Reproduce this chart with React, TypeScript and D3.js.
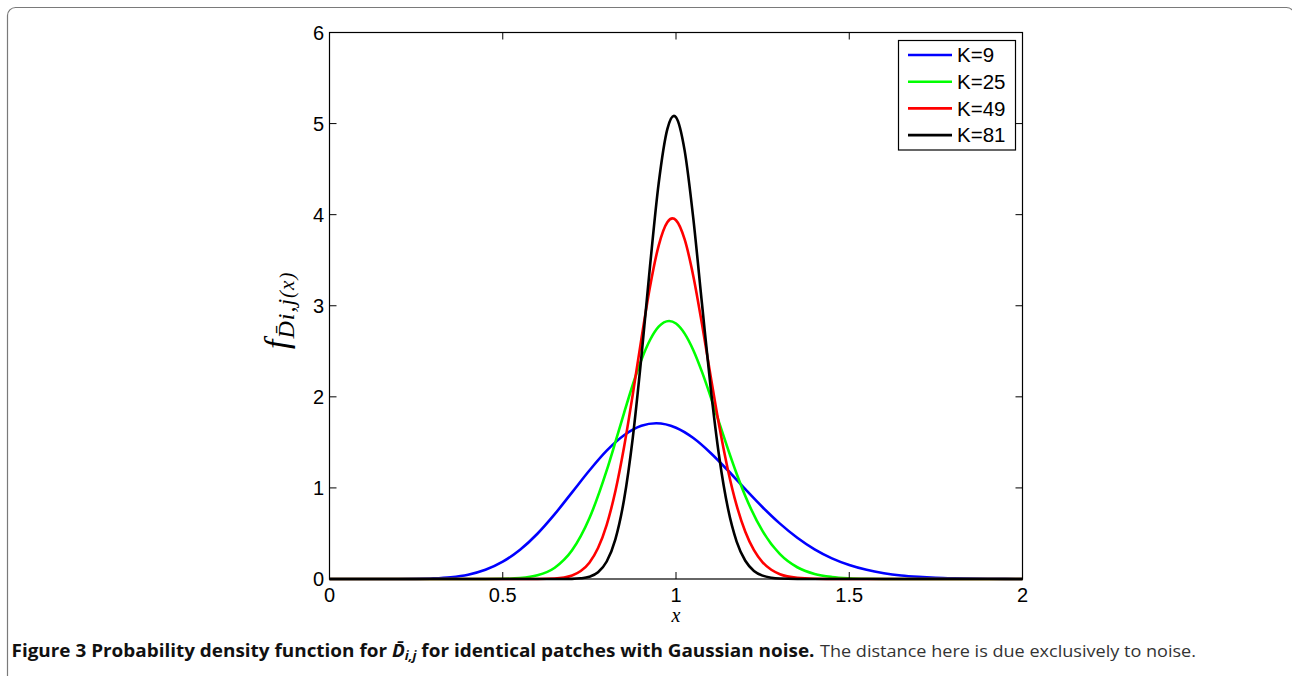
import React from 'react';
import * as d3 from 'd3';

// values (x, density)
const k9Points: [number, number][] = [
  [0, 0], [0.1, 0], [0.15, 0.00004], [0.2, 0.0003], [0.25, 0.0017], [0.3, 0.0065],
  [0.35, 0.0194], [0.4, 0.0477], [0.45, 0.101], [0.5, 0.19], [0.55, 0.321], [0.6, 0.497],
  [0.65, 0.712], [0.7, 0.951], [0.75, 1.191], [0.8, 1.409], [0.85, 1.578], [0.9, 1.682],
  [0.943, 1.71], [1.0, 1.661], [1.05, 1.548], [1.1, 1.384], [1.15, 1.191], [1.2, 0.986],
  [1.25, 0.788], [1.3, 0.608], [1.35, 0.453], [1.4, 0.326], [1.45, 0.227], [1.5, 0.154],
  [1.55, 0.101], [1.6, 0.064], [1.65, 0.039], [1.7, 0.024], [1.75, 0.014], [1.8, 0.008],
  [1.85, 0.004], [1.9, 0.002], [1.95, 0.001], [2, 0.0006]
];
const k25Points: [number, number][] = [
  [0, 0], [0.4, 0], [0.45, 0.0003], [0.5, 0.002], [0.55, 0.01], [0.6, 0.04], [0.65, 0.124],
  [0.7, 0.315], [0.75, 0.667], [0.8, 1.192], [0.825, 1.502], [0.85, 1.821], [0.875, 2.13],
  [0.9, 2.405], [0.925, 2.624], [0.95, 2.77], [0.98, 2.833], [1.0, 2.805], [1.025, 2.694],
  [1.05, 2.512], [1.075, 2.274], [1.1, 2.001], [1.125, 1.712], [1.15, 1.425], [1.175, 1.155],
  [1.2, 0.911], [1.25, 0.525], [1.3, 0.273], [1.35, 0.129], [1.4, 0.055], [1.45, 0.022],
  [1.5, 0.008], [1.55, 0.0025], [1.6, 0.0008], [1.7, 0], [2, 0]
];
const k49Points: [number, number][] = [
  [0, 0], [0.55, 0], [0.6, 0.0006], [0.65, 0.0058], [0.7, 0.039], [0.725, 0.087], [0.75, 0.179],
  [0.775, 0.34], [0.8, 0.595], [0.825, 0.963], [0.85, 1.446], [0.875, 2.021], [0.9, 2.634],
  [0.925, 3.209], [0.95, 3.661], [0.975, 3.917], [0.99, 3.959], [1.0, 3.939], [1.025, 3.728],
  [1.05, 3.325], [1.075, 2.799], [1.1, 2.227], [1.125, 1.676], [1.15, 1.195], [1.175, 0.808],
  [1.2, 0.518], [1.225, 0.316], [1.25, 0.183], [1.275, 0.101], [1.3, 0.053], [1.35, 0.013],
  [1.4, 0.0025], [1.45, 0.0004], [1.5, 0], [2, 0]
];
const k81Points: [number, number][] = [
  [0, 0], [0.65, 0], [0.7, 0.0019], [0.725, 0.0075], [0.75, 0.025], [0.775, 0.075], [0.8, 0.192],
  [0.825, 0.435], [0.85, 0.87], [0.875, 1.542], [0.9, 2.434], [0.925, 3.434], [0.95, 4.344],
  [0.975, 4.94], [0.994, 5.085], [1.0, 5.07], [1.025, 4.703], [1.05, 3.956], [1.075, 3.022],
  [1.1, 2.102], [1.125, 1.334], [1.15, 0.773], [1.175, 0.411], [1.2, 0.2], [1.225, 0.089],
  [1.25, 0.037], [1.275, 0.014], [1.3, 0.005], [1.35, 0.0005], [1.4, 0], [2, 0]
];

const seriesNames = ['K=9', 'K=25', 'K=49', 'K=81'];
const seriesColors = ['#0000ff', '#00ff00', '#ff0000', '#000000'];
const seriesData = [k9Points, k25Points, k49Points, k81Points];

const xTicks = [0, 0.5, 1, 1.5, 2];
const yTicks = [0, 1, 2, 3, 4, 5, 6];

const W = 1292;
const H = 676;
const plot = {left: 329.5, right: 1022.5, top: 32.5, bottom: 579};
const tickLen = 7;
const axisFont = 'Liberation Sans, Arial, sans-serif';
const mathFont = 'Liberation Serif, Times New Roman, serif';
const captionFont = 'Open Sans, sans-serif';

const App = () => {
  const x = d3.scaleLinear().domain([0, 2]).range([plot.left, plot.right]);
  const y = d3.scaleLinear().domain([0, 6]).range([plot.bottom, plot.top]);

  const line = d3.line<[number, number]>()
    .x(d => x(d[0]))
    .y(d => y(d[1]))
    .curve(d3.curveMonotoneX);

  // legend box
  const lg = {x: 898.5, y: 40.5, w: 117, h: 109.5, rowH: 26.7, firstRow: 55};

  return (
    <svg width={W} height={H} style={{position: 'absolute', left: 0, top: 0, display: 'block', background: '#fff'}}>
      {/* figure frame, runs off the right and bottom edges */}
      <rect x={7.5} y={7.5} width={1287} height={720} rx={8} ry={8} fill="none" stroke="#7a7a7a" strokeWidth={1.2}/>

      {/* curves */}
      <g fill="none" strokeWidth={2.6} strokeLinejoin="round">
        {seriesData.map((d, i) => (
          <path key={seriesNames[i]} d={line(d) || ''} stroke={seriesColors[i]}/>
        ))}
      </g>

      {/* axes box */}
      <rect x={plot.left} y={plot.top} width={plot.right - plot.left} height={plot.bottom - plot.top}
            fill="none" stroke="#000" strokeWidth={1.2}/>

      {/* ticks, pointing inward on all four sides */}
      <g stroke="#000" strokeWidth={1}>
        {xTicks.map(t => (
          <g key={'xt' + t}>
            <line x1={x(t)} x2={x(t)} y1={plot.bottom} y2={plot.bottom - tickLen}/>
            <line x1={x(t)} x2={x(t)} y1={plot.top} y2={plot.top + tickLen}/>
          </g>
        ))}
        {yTicks.map(t => (
          <g key={'yt' + t}>
            <line x1={plot.left} x2={plot.left + tickLen} y1={y(t)} y2={y(t)}/>
            <line x1={plot.right} x2={plot.right - tickLen} y1={y(t)} y2={y(t)}/>
          </g>
        ))}
      </g>
      <g fontFamily={axisFont} fontSize={20} fill="#000">
        {xTicks.map(t => (
          <text key={'xl' + t} x={x(t)} y={602} textAnchor="middle">{String(t)}</text>
        ))}
        {yTicks.map(t => (
          <text key={'yl' + t} x={324} y={y(t)} dy="0.36em" textAnchor="end">{String(t)}</text>
        ))}
      </g>

      {/* axis labels */}
      <text x={676} y={622} textAnchor="middle" fontFamily={mathFont} fontStyle="italic" fontSize={20}>x</text>
      <text transform="translate(288,349) rotate(-90)" fontFamily={mathFont} fontStyle="italic" letterSpacing={1}>
        <tspan fontSize={34}>f</tspan>
        <tspan fontSize={24} dy={6}>{'D\u0304i,j'}</tspan>
        <tspan fontSize={21}>(x)</tspan>
      </text>

      {/* legend */}
      <rect x={lg.x} y={lg.y} width={lg.w} height={lg.h} fill="#fff" stroke="#000" strokeWidth={1.2}/>
      {seriesNames.map((name, i) => {
        const cy = lg.firstRow + i * lg.rowH;
        return (
          <g key={'lg' + name}>
            <line x1={908} x2={952} y1={cy} y2={cy} stroke={seriesColors[i]} strokeWidth={2.6}/>
            <text x={957} y={cy} dy="0.36em" fontFamily={axisFont} fontSize={20.5}>{name}</text>
          </g>
        );
      })}

      {/* caption */}
      <text x={11.5} y={657} fontFamily={captionFont} fontSize={17} fontWeight="bold" fill="#111"
            textLength={803} lengthAdjust="spacingAndGlyphs">
        Figure 3 Probability density function for <tspan fontStyle="italic">{'D\u0304'}</tspan>
        <tspan fontStyle="italic" fontSize={12} dy={3}>i,j</tspan>
        <tspan dy={-3}> for identical patches with Gaussian noise.</tspan>
      </text>
      <text x={820} y={657} fontFamily={captionFont} fontSize={17} fill="#333"
            textLength={376} lengthAdjust="spacingAndGlyphs">
        The distance here is due exclusively to noise.
      </text>
    </svg>
  );
};

export default App;
